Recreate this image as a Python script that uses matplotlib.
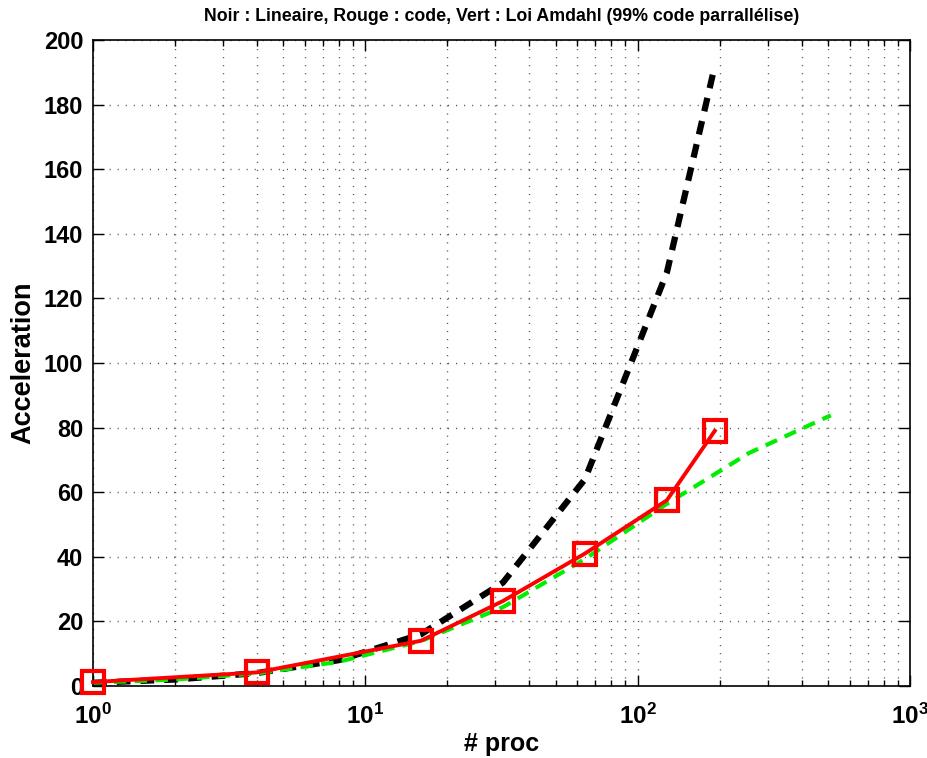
import matplotlib
matplotlib.use("Agg")
import matplotlib.pyplot as plt
from matplotlib.ticker import LogLocator, NullFormatter, LogFormatterMathtext

plt.rcParams["font.family"] = ["Liberation Sans", "DejaVu Sans"]
plt.rcParams["font.weight"] = "bold"
plt.rcParams["mathtext.fontset"] = "custom"
plt.rcParams["mathtext.rm"] = "Liberation Sans:bold"
plt.rcParams["mathtext.bf"] = "Liberation Sans:bold"
plt.rcParams["mathtext.it"] = "Liberation Sans:bold"
plt.rcParams["mathtext.default"] = "bf"

# Lineaire (noir)
proc_lin = [1, 2, 4, 8, 16, 32, 64, 128, 192]
acc_lin = [1, 2, 4, 8, 16, 32, 64, 128, 192]

# Code mesure (rouge)
proc_code = [1, 4, 16, 32, 64, 128, 192]
acc_code = [1.2, 4.2, 14.0, 26.3, 41.0, 57.5, 79.0]

# Loi d'Amdahl 99% (vert)
proc_amd = [1, 2, 4, 8, 16, 32, 64, 128, 256, 512]
acc_amd = [1.0, 2.0, 3.9, 7.5, 13.9, 24.4, 39.3, 56.4, 72.1, 83.8]

fig = plt.figure(figsize=(9.28, 7.58), dpi=100)
ax = fig.add_axes([0.1002, 0.095, 0.8804, 0.8522])

ax.plot(proc_lin, acc_lin, color="black", lw=4.5, ls=(0, (2.2, 1.6)))
ax.plot(proc_amd, acc_amd, color="#00ee00", lw=3, ls=(0, (3, 2)))
ax.plot(proc_code, acc_code, color="red", lw=2.8, marker="s", ms=16,
        mfc="none", mec="red", mew=3, clip_on=False, zorder=5)

ax.set_xscale("log")
ax.set_xlim(1, 1000)
ax.set_ylim(0, 200)
ax.set_yticks(range(0, 201, 20))
ax.xaxis.set_major_locator(LogLocator(base=10, numticks=5))
ax.xaxis.set_major_formatter(LogFormatterMathtext())
ax.xaxis.set_minor_locator(LogLocator(base=10, subs=range(2, 10), numticks=20))
ax.xaxis.set_minor_formatter(NullFormatter())

grid_style = dict(ls=(0, (0.8, 5)), color="#555555", lw=1)
ax.grid(True, which="major", **grid_style)
ax.grid(True, which="minor", axis="x", **grid_style)

ax.tick_params(which="both", direction="in", top=True, right=True, width=1)
ax.tick_params(axis="y", labelsize=17, pad=7)
ax.tick_params(axis="x", labelsize=17.5, pad=13)
ax.tick_params(which="major", length=8)
ax.tick_params(which="minor", length=4)
for s in ax.spines.values():
    s.set_linewidth(1.2)

ax.set_xlabel("# proc", fontsize=18, fontweight="bold", labelpad=2)
ax.set_ylabel("Acceleration", fontsize=19.5, fontweight="bold", labelpad=5)
ax.set_title("Noir : Lineaire, Rouge : code, Vert : Loi Amdahl (99% code parrallélise)",
             fontsize=12.8, fontweight="bold", pad=14)

fig.savefig("out.png", dpi=100)
